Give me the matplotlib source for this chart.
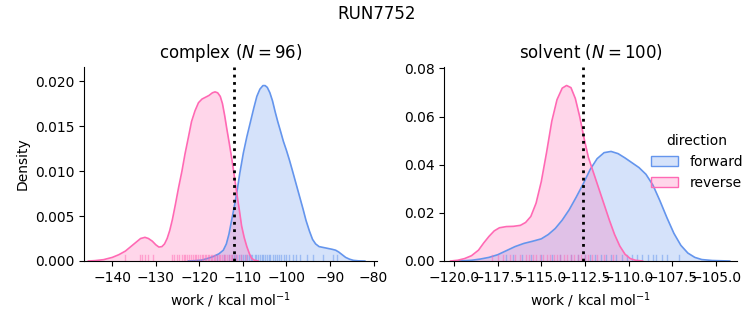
import numpy as np
import matplotlib
matplotlib.use("Agg")
import matplotlib.pyplot as plt
from matplotlib.patches import Patch

# ---- data ----
suptitle = "RUN7752"
panel_titles = ["complex ($N = 96$)", "solvent ($N = 100$)"]
directions = ["forward", "reverse"]
colors = {"forward": "#6495ED", "reverse": "#FF69B4"}

# complex: KDE curves (work, density)
cx_rev = [-145.5, -144, -142, -140, -138.5, -137, -135.5, -134.5, -133.5, -132.5, -131.7, -130.8, -130, -129.3,
          -128.6, -128, -127.4, -126.8, -126.2, -125.5, -124.8, -124, -123.3, -122.5, -121.8, -121, -120.2,
          -119.4, -118.6, -117.8, -117, -116.4, -115.8, -115.2, -114.7, -114.2, -113.7, -113.1, -112.5, -111.9,
          -111.4, -110.8, -110.3, -109.7, -109.1, -108.5, -108, -107.4, -106.5]
cy_rev = [0.0, 0.00004, 0.00015, 0.0004, 0.0007, 0.0011, 0.0017, 0.0021, 0.0025, 0.00263, 0.0025, 0.0022, 0.0018,
          0.00155, 0.0016, 0.0019, 0.0025, 0.0034, 0.0046, 0.0063, 0.0081, 0.0100, 0.0119, 0.0138, 0.0155,
          0.0167, 0.0176, 0.0180, 0.0182, 0.0184, 0.0187, 0.0188, 0.0187, 0.0183, 0.0175, 0.0162, 0.0147,
          0.0130, 0.0112, 0.0092, 0.0075, 0.0056, 0.0039, 0.0026, 0.0016, 0.0008, 0.0003, 0.0001, 0.0]
cx_fwd = [-122.5, -121, -119.5, -118, -116.8, -115.5, -114.5, -113.8, -113.2, -112.6, -112, -111.4, -110.7,
          -109.9, -109.1, -108.3, -107.5, -106.8, -106.1, -105.4, -104.9, -104.4, -103.8, -103.2, -102.6, -102,
          -101.4, -100.7, -100, -99.3, -98.6, -97.8, -97, -96.2, -95.5, -94.7, -94, -93.3, -92.5, -91.5, -90.5,
          -89.5, -88.7, -88, -87.2, -86.4, -85.5, -84.6, -83.5, -82]
cy_fwd = [0.0, 0.00004, 0.0001, 0.0003, 0.0005, 0.0008, 0.0012, 0.0019, 0.0030, 0.0045, 0.0060, 0.0076, 0.0098,
          0.0120, 0.0138, 0.0154, 0.0170, 0.0183, 0.0191, 0.0195, 0.0195, 0.0193, 0.0187, 0.0178, 0.0166, 0.0155,
          0.0145, 0.0133, 0.0123, 0.0112, 0.0100, 0.0086, 0.0072, 0.0058, 0.0045, 0.0033, 0.0024, 0.0019,
          0.0016, 0.0015, 0.0014, 0.0013, 0.0012, 0.0010, 0.0007, 0.0004, 0.0002, 0.00007, 0.00002, 0.0]

# solvent: KDE curves
sx_rev = [-120.2, -119.8, -119.4, -119.0, -118.6, -118.3, -118.0, -117.7, -117.4, -117.0, -116.6, -116.2,
          -115.9, -115.6, -115.3, -115.0, -114.7, -114.4, -114.1, -113.8, -113.55, -113.3, -113.05, -112.8,
          -112.55, -112.3, -112.0, -111.7, -111.4, -111.1, -110.8, -110.5, -110.2, -109.9, -109.6, -109.2]
sy_rev = [0.0, 0.0003, 0.0010, 0.0022, 0.0045, 0.0075, 0.0102, 0.0125, 0.0138, 0.0143, 0.0144, 0.0148,
          0.0160, 0.0185, 0.0240, 0.0330, 0.0450, 0.0580, 0.0670, 0.0718, 0.0729, 0.0720, 0.0675, 0.0600,
          0.0510, 0.0430, 0.0365, 0.0300, 0.0235, 0.0170, 0.0110, 0.0062, 0.0028, 0.0010, 0.0003, 0.0]
sx_fwd = [-120.0, -119.5, -119.0, -118.5, -118.0, -117.5, -117.0, -116.5, -116.0, -115.5, -115.0, -114.6,
          -114.2, -113.8, -113.4, -113.0, -112.6, -112.2, -111.8, -111.4, -111.0, -110.6, -110.2, -109.8,
          -109.4, -109.0, -108.6, -108.2, -107.8, -107.4, -107.0, -106.6, -106.2, -105.8, -105.2, -104.2]
sy_fwd = [0.0, 0.0001, 0.0003, 0.0008, 0.0015, 0.0026, 0.0043, 0.0060, 0.0073, 0.0082, 0.0092, 0.0110,
          0.0135, 0.0170, 0.0213, 0.0265, 0.0320, 0.0380, 0.0425, 0.0450, 0.0455, 0.0446, 0.0428, 0.0408,
          0.0388, 0.0360, 0.0315, 0.0250, 0.0180, 0.0115, 0.0065, 0.0033, 0.0015, 0.0006, 0.0002, 0.0]

# rug samples (approximate)
c_rug_rev = [-137.1, -133.6, -133.2, -132.5, -131.7, -130.6, -126.3, -125.8, -125.2, -124.7, -124.1, -123.6,
             -123.2, -122.8, -122.3, -121.9, -121.5, -121.1, -120.7, -120.3, -119.9, -119.5, -119.1, -118.8,
             -118.4, -118.0, -117.7, -117.3, -117.0, -116.6, -116.3, -115.9, -115.5, -115.2, -114.8, -114.4,
             -114.0, -113.6, -113.2, -112.8, -112.4, -111.9, -111.3, -110.5, -109.2]
c_rug_fwd = [-116.0, -114.3, -113.2, -112.6, -112.0, -111.5, -111.0, -110.5, -110.0, -109.5, -109.1, -108.6,
             -108.2, -107.8, -107.3, -106.9, -106.5, -106.1, -105.7, -105.3, -104.9, -104.5, -104.1, -103.7,
             -103.2, -102.7, -102.2, -101.7, -101.2, -100.6, -100.0, -99.3, -98.6, -97.8, -96.9, -95.3,
             -93.8, -91.6, -89.2, -88.4]
s_rug_rev = [-117.8, -117.5, -117.2, -116.8, -116.5, -116.2, -115.9, -115.7, -115.5, -115.3, -115.1, -114.9,
             -114.7, -114.5, -114.3, -114.1, -113.9, -113.7, -113.5, -113.3, -113.1, -112.9, -112.7, -112.5,
             -112.3, -112.1, -111.8, -111.4, -110.9]
s_rug_fwd = [-117.0, -116.6, -116.1, -115.6, -115.0, -114.4, -113.9, -113.3, -112.9, -112.5, -112.2, -111.9,
             -111.6, -111.3, -111.0, -110.7, -110.4, -110.1, -109.8, -109.5, -109.2, -108.9, -108.6, -108.4,
             -108.1, -107.8, -107.1]

vlines = [-112.0, -112.6]
xlims = [(-146.5, -79.2), (-120.56, -103.8)]
ylims = [(0, 0.0216), (0, 0.0807)]
yticks = [[0.0, 0.005, 0.010, 0.015, 0.020], [0.0, 0.02, 0.04, 0.06, 0.08]]
ytick_labels = [["0.000", "0.005", "0.010", "0.015", "0.020"], ["0.00", "0.02", "0.04", "0.06", "0.08"]]
xticks = [[-140, -130, -120, -110, -100, -90, -80],
          [-120.0, -117.5, -115.0, -112.5, -110.0, -107.5, -105.0]]
xtick_labels = [["\u2212140", "\u2212130", "\u2212120", "\u2212110", "\u2212100", "\u221290", "\u221280"],
                ["\u2212120.0", "\u2212117.5", "\u2212115.0", "\u2212112.5", "\u2212110.0", "\u2212107.5", "\u2212105.0"]]

panels = [
    {"forward": (cx_fwd, cy_fwd, c_rug_fwd), "reverse": (cx_rev, cy_rev, c_rug_rev)},
    {"forward": (sx_fwd, sy_fwd, s_rug_fwd), "reverse": (sx_rev, sy_rev, s_rug_rev)},
]

fig = plt.figure(figsize=(7.53, 3.25), dpi=100)
W, H = 753, 325
ax_bottom = (H - 261) / H
ax_h = 194.3 / H
axes = [fig.add_axes([84 / W, ax_bottom, 293 / W, ax_h]),
        fig.add_axes([444.3 / W, ax_bottom, 292.4 / W, ax_h])]

for i, ax in enumerate(axes):
    for d in directions:
        xs, ys, rug = panels[i][d]
        c = colors[d]
        ax.fill_between(xs, ys, 0, color=c, alpha=0.27, linewidth=0)
        ax.plot(xs, ys, color=c, linewidth=1.2, solid_joinstyle="round")
        for r in rug:
            ax.axvline(r, ymin=0, ymax=0.03, color=c, alpha=0.5, linewidth=1)
    ax.axvline(vlines[i], color="black", linestyle=":", linewidth=2)
    ax.set_xlim(*xlims[i])
    ax.set_ylim(*ylims[i])
    ax.set_xticks(xticks[i])
    ax.set_xticklabels(xtick_labels[i])
    ax.set_yticks(yticks[i])
    ax.set_yticklabels(ytick_labels[i])
    ax.set_title(panel_titles[i], fontsize=12)
    ax.set_xlabel("work / kcal mol$^{-1}$")
    ax.spines["top"].set_visible(False)
    ax.spines["right"].set_visible(False)

axes[0].set_ylabel("Density")

handles = [Patch(facecolor=matplotlib.colors.to_rgba(colors[d], 0.27),
                 edgecolor=colors[d], linewidth=1) for d in directions]
fig.legend(handles, directions, title="direction", frameon=False,
           loc="center left", bbox_to_anchor=(638 / W, 1 - 162 / H), fontsize=10, title_fontsize=10)

fig.suptitle(suptitle, fontsize=12, y=0.985)
fig.savefig("out.png", dpi=100)
